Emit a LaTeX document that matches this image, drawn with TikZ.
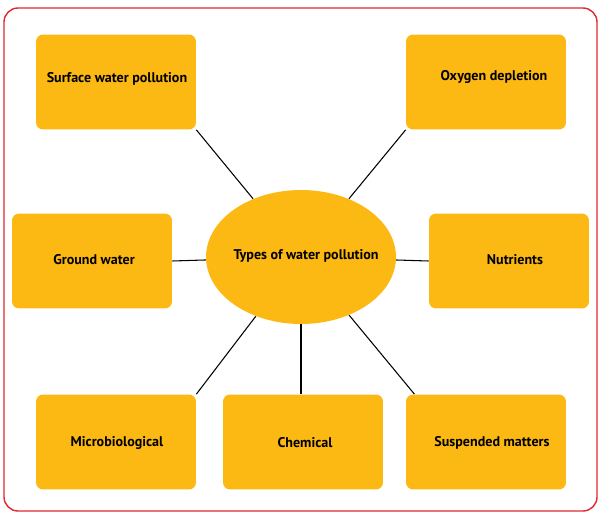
\documentclass[tikz,border=0pt]{standalone}
\usepackage{fontspec}
\setmainfont{PT Sans}
\usetikzlibrary{shapes.geometric}
\definecolor{boxc}{HTML}{FDB913}
\definecolor{redc}{HTML}{E0282E}
\begin{document}
\begin{tikzpicture}[x=0.02cm,y=-0.02cm,
  bx/.style={fill=boxc,rounded corners=4pt},
  lbl/.style={font=\bfseries\fontsize{8}{10}\selectfont},
  ln/.style={draw=black,line width=0.6pt}]
\useasboundingbox (0,0) rectangle (601,517);
\draw[redc,line width=0.8pt,rounded corners=8pt] (4,8) rectangle (597,511);
\node[bx,minimum width=3.2cm,minimum height=1.9cm] (s) at (116,82) {};
\node[bx,minimum width=3.2cm,minimum height=1.9cm] (o) at (486,82) {};
\node[bx,minimum width=3.2cm,minimum height=1.9cm] (g) at (92,261) {};
\node[bx,minimum width=3.2cm,minimum height=1.9cm] (n) at (509,261) {};
\node[bx,minimum width=3.2cm,minimum height=1.9cm] (m) at (116,442) {};
\node[bx,minimum width=3.2cm,minimum height=1.9cm] (c) at (303,442) {};
\node[bx,minimum width=3.2cm,minimum height=1.9cm] (p) at (486,442) {};
\node[ellipse,fill=boxc,minimum width=3.8cm,minimum height=2.68cm,inner sep=0] (e) at (301,257) {};
\node[lbl] (ts) at (117,79) {Surface water pollution};
\node[lbl] (to) at (494,77) {Oxygen depletion};
\node[lbl] (tg) at (94,260) {Ground water};
\node[lbl] (tn) at (515,260) {Nutrients};
\node[lbl] (tm) at (117,443) {Microbiological};
\node[lbl] (tc) at (305,443) {Chemical};
\node[lbl] (tp) at (492,443) {Suspended matters};
\node[lbl] (te) at (306,256) {Types of water pollution};
\draw[ln] (e) -- (s.south east);
\draw[ln] (e) -- (o.south west);
\draw[ln] (e) -- (g.east);
\draw[ln] (e) -- (n.west);
\draw[ln] (e) -- (m.north east);
\draw[ln] (e.south) -- (c.north -| e.south);
\draw[ln] (e) -- ([xshift=5]p.north west);
\end{tikzpicture}
\end{document}
